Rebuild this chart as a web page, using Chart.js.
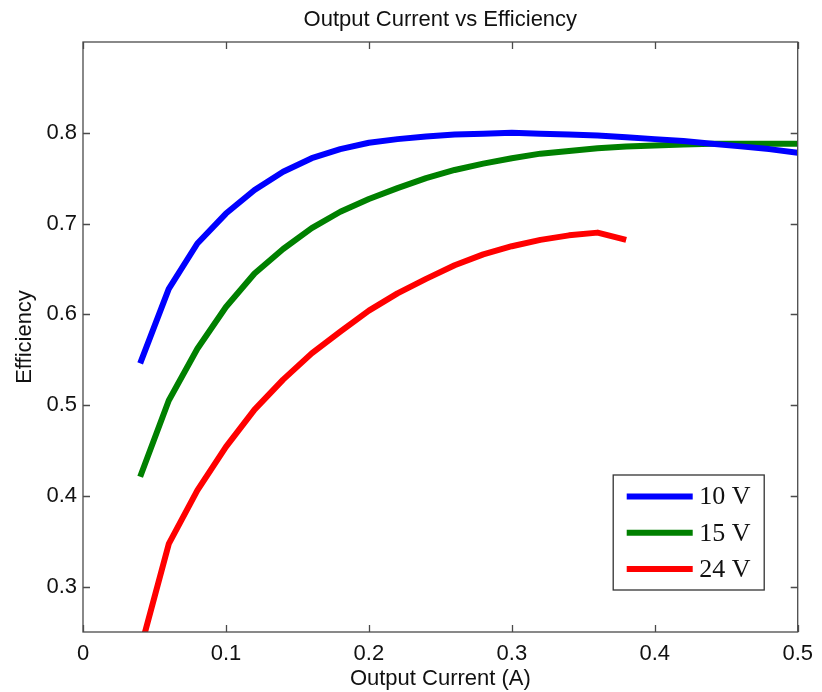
<!DOCTYPE html>
<html>
<head>
<meta charset="utf-8">
<script src="https://cdn.jsdelivr.net/npm/chart.js@4.4.1/dist/chart.umd.min.js"></script>
<style>
  html, body { margin: 0; padding: 0; background: #fff; }
  #wrap { width: 822px; height: 692px; }
</style>
</head>
<body>
<div id="wrap"><canvas id="chart" width="822" height="692"></canvas></div>
<script>
// Output current samples (A)
const currents = [0.04, 0.06, 0.08, 0.10, 0.12, 0.14, 0.16, 0.18, 0.20, 0.22, 0.24, 0.26,
                  0.28, 0.30, 0.32, 0.34, 0.36, 0.38, 0.40, 0.42, 0.44, 0.46, 0.48, 0.50];

// Measured efficiency per supply voltage
const eff10V = [0.546, 0.628, 0.678, 0.711, 0.737, 0.757, 0.772, 0.782, 0.789, 0.793, 0.796, 0.798,
                0.799, 0.800, 0.799, 0.798, 0.797, 0.795, 0.793, 0.791, 0.788, 0.785, 0.782, 0.778];
const eff15V = [0.421, 0.505, 0.562, 0.608, 0.645, 0.672, 0.695, 0.713, 0.727, 0.739, 0.750, 0.759,
                0.766, 0.772, 0.777, 0.780, 0.783, 0.785, 0.786, 0.787, 0.788, 0.788, 0.788, 0.788];
const eff24V = [0.230, 0.347, 0.406, 0.454, 0.495, 0.528, 0.557, 0.581, 0.604, 0.623, 0.639, 0.654,
                0.666, 0.675, 0.682, 0.687, 0.690, 0.682];

const seriesLabels = ['10 V', '15 V', '24 V'];
const seriesColors = ['#0000ff', '#008000', '#ff0000'];

const xTicks = [0, 0.1, 0.2, 0.3, 0.4, 0.5];
const xTickLabels = ['0', '0.1', '0.2', '0.3', '0.4', '0.5'];
const yTicks = [0.3, 0.4, 0.5, 0.6, 0.7, 0.8];
const yTickLabels = ['0.3', '0.4', '0.5', '0.6', '0.7', '0.8'];

const chartTitle = 'Output Current vs Efficiency';

const toPoints = (xs, ys) => ys.map((v, i) => ({ x: xs[i], y: v }));

const SANS = "'Liberation Sans', Arial, sans-serif";
const SERIF = "'Liberation Serif', 'Times New Roman', serif";
const AXIS_COLOR = '#4a4a4a';

// Title centred over the plot box, the box itself, inward tick marks on all
// four sides, and the legend inset in the lower right corner
const framePlugin = {
  id: 'frame',
  afterDatasetsDraw(chart) {
    const { ctx, chartArea: a, scales } = chart;
    const xs = scales.x, ys = scales.y;
    ctx.save();

    ctx.fillStyle = '#111';
    ctx.font = '22px ' + SANS;
    ctx.textAlign = 'center';
    ctx.textBaseline = 'alphabetic';
    ctx.fillText(chartTitle, (a.left + a.right) / 2, a.top - 16);

    ctx.strokeStyle = AXIS_COLOR;
    ctx.lineWidth = 1.3;
    ctx.strokeRect(a.left, a.top, a.right - a.left, a.bottom - a.top);

    const tl = 7;
    ctx.beginPath();
    xs.ticks.forEach(t => {
      const px = Math.round(xs.getPixelForValue(t.value)) + 0.5;
      ctx.moveTo(px, a.bottom); ctx.lineTo(px, a.bottom - tl);
      ctx.moveTo(px, a.top); ctx.lineTo(px, a.top + tl);
    });
    ys.ticks.forEach(t => {
      const py = Math.round(ys.getPixelForValue(t.value)) + 0.5;
      ctx.moveTo(a.left, py); ctx.lineTo(a.left + tl, py);
      ctx.moveTo(a.right, py); ctx.lineTo(a.right - tl, py);
    });
    ctx.stroke();

    // legend inset
    const boxW = 151, boxH = 115;
    const bx = a.right - 33.5 - boxW;
    const by = a.bottom - 42 - boxH;
    ctx.fillStyle = '#fff';
    ctx.fillRect(bx, by, boxW, boxH);
    ctx.strokeStyle = '#333';
    ctx.lineWidth = 1.3;
    ctx.strokeRect(bx, by, boxW, boxH);

    ctx.font = '26px ' + SERIF;
    ctx.textBaseline = 'middle';
    ctx.textAlign = 'left';
    chart.data.datasets.forEach((ds, i) => {
      const rowY = by + 21.5 + i * 36.2;
      ctx.strokeStyle = ds.borderColor;
      ctx.lineWidth = 6;
      ctx.lineCap = 'butt';
      ctx.beginPath();
      ctx.moveTo(bx + 13.5, rowY);
      ctx.lineTo(bx + 79.5, rowY);
      ctx.stroke();
      ctx.fillStyle = '#111';
      ctx.fillText(ds.label, bx + 86, rowY + 1);
    });
    ctx.restore();
  }
};

const datasets = [eff10V, eff15V, eff24V].map((vals, i) => ({
  label: seriesLabels[i],
  data: toPoints(currents, vals),
  borderColor: seriesColors[i],
  backgroundColor: seriesColors[i],
  borderWidth: 6,
  pointRadius: 0,
  tension: 0,
  fill: false,
  borderCapStyle: 'butt',
  borderJoinStyle: 'round'
}));

new Chart(document.getElementById('chart'), {
  type: 'line',
  data: { datasets },
  options: {
    responsive: false,
    animation: false,
    devicePixelRatio: 1,
    layout: { padding: { top: 42, right: 20, bottom: 0, left: 0 } },
    plugins: {
      legend: { display: false },
      tooltip: { enabled: false },
      title: { display: false }
    },
    scales: {
      x: {
        type: 'linear',
        min: 0,
        max: 0.5,
        grid: { display: false, drawTicks: false },
        border: { display: false },
        afterBuildTicks: s => { s.ticks = xTicks.map(v => ({ value: v })); },
        afterFit: s => { s.height = 60; },
        ticks: {
          color: '#111',
          padding: 9,
          maxRotation: 0,
          autoSkip: false,
          font: { family: SANS, size: 22 },
          callback: (v, i) => xTickLabels[i]
        },
        title: {
          display: true,
          text: 'Output Current (A)',
          color: '#111',
          font: { family: SANS, size: 22 },
          padding: { top: 0, bottom: 0 }
        }
      },
      y: {
        type: 'linear',
        min: 0.25,
        max: 0.9,
        grid: { display: false, drawTicks: false },
        border: { display: false },
        afterBuildTicks: s => { s.ticks = yTicks.map(v => ({ value: v })); },
        afterFit: s => { s.width = 83; },
        ticks: {
          color: '#111',
          padding: 6,
          autoSkip: false,
          font: { family: SANS, size: 22 },
          callback: (v, i) => yTickLabels[i]
        },
        title: {
          display: true,
          text: 'Efficiency',
          color: '#111',
          font: { family: SANS, size: 22 },
          padding: { top: 12, bottom: 0 }
        }
      }
    }
  },
  plugins: [framePlugin]
});
</script>
</body>
</html>
